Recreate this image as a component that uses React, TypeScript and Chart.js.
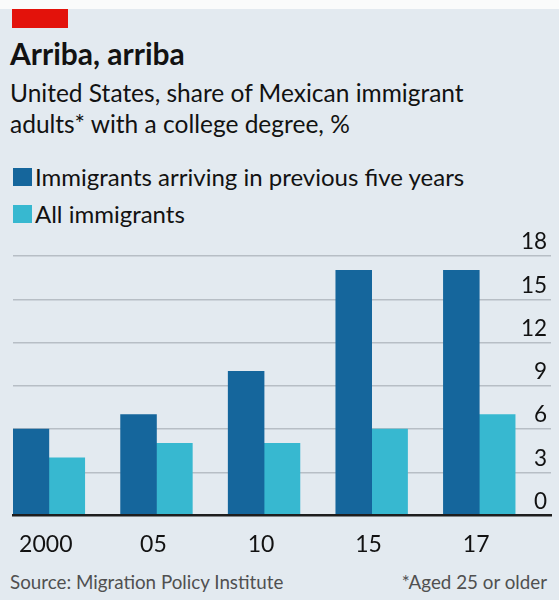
import React, { useEffect, useRef } from 'react';
import { Chart, registerables } from 'chart.js';

Chart.register(...registerables);

// ---- data ----
const categories = ['2000', '05', '10', '15', '17'];
const recentArrivals = [6, 7, 10, 17, 17];
const allImmigrants = [4, 5, 5, 6, 7];
const emptySlot = [null, null, null, null, null]; // third (blank) slot in each group
const seriesNames = ['Immigrants arriving in previous five years', 'All immigrants'];
const yMin = 0;
const yMax = 18;
const yStep = 3;

// ---- styles ----
const COLORS = {
  dark: '#15669c',
  light: '#37b8d0',
  bg: '#e3eaf0',
  red: '#e3120b',
  grid: '#b7bec5',
  axis: '#1e1e1e',
  text: '#121212',
  muted: '#505050',
};
const NUM_FONT = 'Lato, "Open Sans", sans-serif';
const TEXT_FONT = 'Lato, "Open Sans", sans-serif';

function Txt(props: {
  text: string;
  baseline: number;
  size: number;
  left?: number;
  right?: number;
  bold?: boolean;
  color?: string;
}) {
  const { text, baseline, size, left, right, bold, color } = props;
  const top = baseline - 0.987 * size;
  const style: React.CSSProperties = {
    position: 'absolute',
    top,
    fontFamily: TEXT_FONT,
    fontSize: size,
    lineHeight: `${size * 1.2}px`,
    fontWeight: bold ? 700 : 400,
    color: color || COLORS.text,
    whiteSpace: 'nowrap',
  };
  if (left !== undefined) style.left = left;
  if (right !== undefined) style.right = right;
  return <div style={style}>{text}</div>;
}

export default function App() {
  const ref = useRef<HTMLCanvasElement>(null);

  useEffect(() => {
    if (!ref.current) return;
    const chart = new Chart(ref.current, {
      type: 'bar',
      data: {
        labels: categories,
        datasets: [
          { label: seriesNames[0], data: recentArrivals, backgroundColor: COLORS.dark },
          { label: seriesNames[1], data: allImmigrants, backgroundColor: COLORS.light },
          { label: '', data: emptySlot as any, backgroundColor: 'rgba(0,0,0,0)' },
        ],
      },
      options: {
        responsive: false,
        animation: false,
        devicePixelRatio: 1,
        layout: { padding: { left: 13, top: 31, right: 0, bottom: 0 } },
        datasets: { bar: { categoryPercentage: 1, barPercentage: 1 } },
        plugins: {
          legend: { display: false },
          tooltip: { enabled: false },
          title: { display: false },
        },
        scales: {
          x: {
            type: 'category',
            offset: true,
            grid: { display: false, drawTicks: false },
            border: { display: true, color: COLORS.axis, width: 2.5, z: 1 },
            ticks: {
              font: { family: NUM_FONT, size: 23 },
              color: COLORS.text,
              padding: 15,
              labelOffset: -21,
              maxRotation: 0,
              autoSkip: false,
            },
            afterFit: (s: any) => {
              s.height = 49.5;
            },
          },
          y: {
            position: 'right',
            min: yMin,
            max: yMax,
            ticks: {
              stepSize: yStep,
              mirror: true,
              padding: -4,
              labelOffset: -14,
              font: { family: NUM_FONT, size: 22.5 },
              color: COLORS.text,
            },
            grid: {
              color: (ctx: any) => (ctx.tick && ctx.tick.value === 0 ? 'rgba(0,0,0,0)' : COLORS.grid),
              lineWidth: 1.5,
              drawTicks: false,
            },
            border: { display: false },
            afterFit: (s: any) => {
              s.width = 8;
            },
          },
        },
      },
    } as any);
    return () => chart.destroy();
  }, []);

  return (
    <div
      style={{
        position: 'fixed',
        left: 0,
        top: 0,
        width: 559,
        height: 600,
        background: '#fafbfb',
        overflow: 'hidden',
      }}
    >
      <div style={{ position: 'absolute', left: 0, top: 9, width: 559, height: 591, background: COLORS.bg }} />
      <div style={{ position: 'absolute', left: 12, top: 9, width: 56, height: 19, background: COLORS.red }} />
      <Txt text="Arriba, arriba" baseline={65} size={30} left={10} bold />
      <Txt text="United States, share of Mexican immigrant" baseline={101.7} size={24.5} left={10} />
      <Txt text="adults* with a college degree, %" baseline={133.3} size={24.5} left={10} />

      <div style={{ position: 'absolute', left: 13, top: 168, width: 18.5, height: 17.5, background: COLORS.dark }} />
      <Txt text={seriesNames[0]} baseline={186.7} size={24} left={35} />
      <div style={{ position: 'absolute', left: 13, top: 205, width: 18.5, height: 17.5, background: COLORS.light }} />
      <Txt text={seriesNames[1]} baseline={223.3} size={24} left={35} />

      <canvas
        ref={ref}
        width={559}
        height={340}
        style={{ position: 'absolute', left: 0, top: 225, width: 559, height: 340 }}
      />

      <Txt text="Source: Migration Policy Institute" baseline={589.5} size={18.8} left={10} color={COLORS.muted} />
      <Txt text="*Aged 25 or older" baseline={589.5} size={18.8} right={12} color={COLORS.muted} />
    </div>
  );
}
